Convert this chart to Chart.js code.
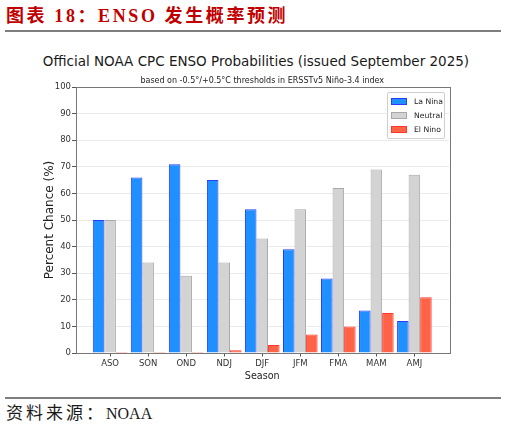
<!DOCTYPE html>
<html><head><meta charset="utf-8">
<script src="https://cdn.jsdelivr.net/npm/chart.js@4.4.0/dist/chart.umd.min.js"></script>
<style>
html,body{margin:0;padding:0;background:#fff;width:506px;height:428px;overflow:hidden;position:relative;}
#hdr{position:absolute;left:6px;top:7px;font:bold 18px/18px "Liberation Serif","Noto Sans CJK SC";letter-spacing:2.6px;color:#C00000;white-space:nowrap;}
.rule{position:absolute;left:5px;width:496px;height:2px;background:#7f7f7f;}
#src{position:absolute;left:6px;top:405px;font:17px/18px "Liberation Serif","Noto Sans CJK SC";color:#1a1a1a;white-space:nowrap;}
#src .cjk{letter-spacing:3px;}
#src .lat{font-size:16px;letter-spacing:0;}
#ttl{position:absolute;left:0;width:512px;top:53px;text-align:center;font:13.5px/16px "DejaVu Sans";color:#1a1a1a;white-space:nowrap;}
#wrap{position:absolute;left:0;top:40px;width:506px;height:350px;}
#legend{position:absolute;left:387px;top:92px;width:56px;height:44px;border:1px solid #cfcfcf;border-radius:2px;background:rgba(255,255,255,0.85);font:7.7px "DejaVu Sans";color:#222;z-index:5;box-sizing:content-box;padding-top:1px;}
#legend .row{height:14px;display:flex;align-items:center;}
#legend .sw{width:14px;height:5px;margin-left:3px;margin-right:7px;border:1px solid;}
</style>
</head><body>
<div id="hdr">图表 18：ENSO 发生概率预测</div>
<div class="rule" style="top:30px"></div>
<div id="ttl">Official NOAA CPC ENSO Probabilities (issued September 2025)</div>
<div id="wrap"><canvas id="c"></canvas></div>
<div id="legend"></div>
<div class="rule" style="top:397px"></div>
<div id="src"><span class="cjk">资料来源：</span><span class="lat">NOAA</span></div>
<script>
const seasons = ['ASO','SON','OND','NDJ','DJF','JFM','FMA','MAM','AMJ'];
const laNina  = [50, 66, 71, 65, 54, 39, 28, 16, 12];
const neutral = [50, 34, 29, 34, 43, 54, 62, 69, 67];
const elNino  = [0, 0, 0, 1, 3, 7, 10, 15, 21];
const seriesNames = ['La Nina', 'Neutral', 'El Nino'];
const seriesFill = ['#1E90FF', '#D3D3D3', '#FF6347'];
const seriesEdge = ['#2a3cff', '#a8a8a8', '#ff3a2a'];
const subtitleText = 'based on -0.5°/+0.5°C thresholds in ERSSTv5 Niño-3.4 index';
const xTitle = 'Season';
const yTitle = 'Percent Chance (%)';

const seriesValues = [laNina, neutral, elNino];

const frame = {
  id: 'frame',
  afterDatasetsDraw(chart) {
    const a = chart.chartArea, ctx = chart.ctx;
    ctx.save();
    ctx.strokeStyle = '#777';
    ctx.lineWidth = 1;
    ctx.strokeRect(Math.round(a.left) + 0.5, Math.round(a.top) + 0.5, Math.round(a.right - a.left), Math.round(a.bottom - a.top));
    ctx.restore();
  }
};

const chart = new Chart(document.getElementById('c'), {
  type: 'bar',
  data: {
    datasets: seriesNames.map((name, k) => ({
      label: name,
      data: seasons.map((s, i) => ({x: i, y: seriesValues[k][i]})),
      backgroundColor: seriesFill[k],
      borderColor: seriesEdge[k],
      borderWidth: 1,
      minBarLength: k === 2 ? 1 : 0,
      categoryPercentage: 0.91,
      barPercentage: 1.0
    }))
  },
  options: {
    responsive: true,
    maintainAspectRatio: false,
    animation: false,
    layout: {padding: {left: 42.3, right: 57, top: 0, bottom: 8.2}},
    plugins: {
      legend: {display: false},
      tooltip: {enabled: false},
      title: {display: false},
      subtitle: {
        display: true, text: subtitleText, fullSize: false,
        color: '#222', font: {family: 'DejaVu Sans', size: 8, weight: 'normal'},
        padding: {top: 35.7, bottom: 1.7}
      }
    },
    scales: {
      x: {
        type: 'linear', min: -0.91, max: 8.91, offset: false,
        afterBuildTicks(scale) { scale.ticks = seasons.map((s, i) => ({value: i})); },
        afterFit(scale) { scale.height = 28.8; },
        ticks: {
          autoSkip: false, maxRotation: 0, padding: 2,
          color: '#333', font: {family: 'DejaVu Sans', size: 8.5},
          callback: (v) => seasons[v]
        },
        grid: {display: true, offset: false, drawOnChartArea: false, tickLength: 3.5, tickColor: '#555', color: '#555'},
        border: {display: false},
        title: {display: true, text: xTitle, color: '#222', font: {family: 'DejaVu Sans', size: 9.6}, padding: {top: 0, bottom: 0}}
      },
      y: {
        min: 0, max: 100,
        afterFit(scale) { scale.width = 33.2; },
        ticks: {stepSize: 10, padding: 1, color: '#333', font: {family: 'DejaVu Sans', size: 8.5}},
        grid: {color: '#ebebeb', tickLength: 3.5, tickColor: '#555'},
        border: {display: false},
        title: {display: true, text: yTitle, color: '#222', font: {family: 'DejaVu Sans', size: 12}, padding: {top: 0, bottom: 0}}
      }
    }
  },
  plugins: [frame]
});

const lg = document.getElementById('legend');
seriesNames.forEach((name, k) => {
  const row = document.createElement('div');
  row.className = 'row';
  const sw = document.createElement('span');
  sw.className = 'sw';
  sw.style.background = seriesFill[k];
  sw.style.borderColor = seriesEdge[k];
  const t = document.createElement('span');
  t.textContent = name;
  row.appendChild(sw); row.appendChild(t);
  lg.appendChild(row);
});
</script>
</body></html>
